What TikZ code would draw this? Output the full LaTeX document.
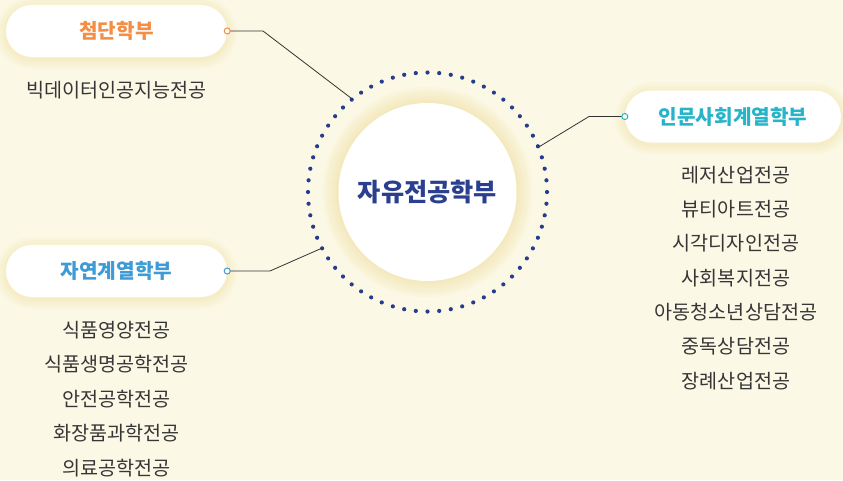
\documentclass[tikz,border=0pt]{standalone}
\usepackage{fontspec}
\setmainfont{Noto Sans CJK KR}
\usetikzlibrary{calc}
\definecolor{bg}{HTML}{FCF8E6}
\definecolor{glowc}{HTML}{F2E2A4}
\definecolor{orangec}{HTML}{F38E44}
\definecolor{bluec}{HTML}{3E9BD6}
\definecolor{tealc}{HTML}{27B4C8}
\definecolor{navyc}{HTML}{2A3F8F}
\definecolor{dotc}{HTML}{263C8E}
\definecolor{textc}{HTML}{363636}
\definecolor{linec}{HTML}{333333}
\tikzset{
  pill/.style={fill=white, rounded corners=26pt, minimum height=52pt, inner sep=0pt, font=\bfseries\fontsize{20.2}{22}\selectfont},
  port/.style={circle, fill=white, line width=1pt, minimum size=6pt, inner sep=0pt},
  conn/.style={draw=linec, line width=0.8pt},
  major/.style={font=\fontsize{19.6}{22}\selectfont, text=textc, anchor=base, inner sep=0pt},
  glowstep/.style={fill=glowc, opacity=0.13}
}
\begin{document}
\begin{tikzpicture}[x=1pt,y=-1pt]
\fill[bg] (0,0) rectangle (843,480);
\useasboundingbox (0,0) rectangle (843,480);

% glow of the central disc
\foreach \e in {16,13,10,7,4,2}
  \fill[glowstep] (427.5,192) circle ({89+\e});

% pills glows
\foreach \cx/\cy/\w in {116.5/31/221, 116.5/271/221, 733/116.5/216}{
  \foreach \e in {10,7,4,2}{
    \pgfmathsetmacro{\rc}{26+\e}
    \fill[glowstep, rounded corners=\rc pt] ({\cx-\w/2-\e},{\cy-26-\e+2}) rectangle ({\cx+\w/2+\e},{\cy+26+\e+2});
  }
}

% pills
\node[pill, minimum width=221pt, text=orangec] (pA) at (116.5,31) {첨단학부};
\node[pill, minimum width=221pt, text=bluec] (pB) at (116.5,271) {자연계열학부};
\node[pill, minimum width=216pt, text=tealc] (pC) at (733,116.5) {인문사회계열학부};

% centre
\node[circle, fill=white, minimum size=178pt, inner sep=0pt, text=navyc, font=\bfseries\fontsize{25.2}{28}\selectfont] (hub) at (427.5,192) {자유전공학부};
\node[circle, minimum size=239pt, inner sep=0pt] (ring) at (427.5,192) {};
\foreach \i in {0,...,63}
  \fill[dotc] (ring.center) ++(\i*5.625:119.5) circle (2.1);

% connectors
\draw[conn] (pA.east) -- (263,31) -- (ring.129.375);
\draw[conn] (pB.east) -- (270,271) -- (ring.208.125);
\draw[conn] (pC.west) -- (589,116.5) -- (ring.22.5);
\node[port, draw=orangec] (portA) at (pA.east) {};
\node[port, draw=bluec] (portB) at (pB.east) {};
\node[port, draw=tealc] (portC) at (pC.west) {};

% lists
\node[major] (lA) at (116.5,97) {빅데이터인공지능전공};
\foreach \t [count=\i from 0] in {식품영양전공,식품생명공학전공,안전공학전공,화장품과학전공,의료공학전공}
  \node[major] (lB\i) at (116.5,{337+34.6*\i}) {\t};
\foreach \t [count=\i from 0] in {레저산업전공,뷰티아트전공,시각디자인전공,사회복지전공,아동청소년상담전공,중독상담전공,장례산업전공}
  \node[major] (lC\i) at (736,{182+34.35*\i}) {\t};
\end{tikzpicture}
\end{document}
